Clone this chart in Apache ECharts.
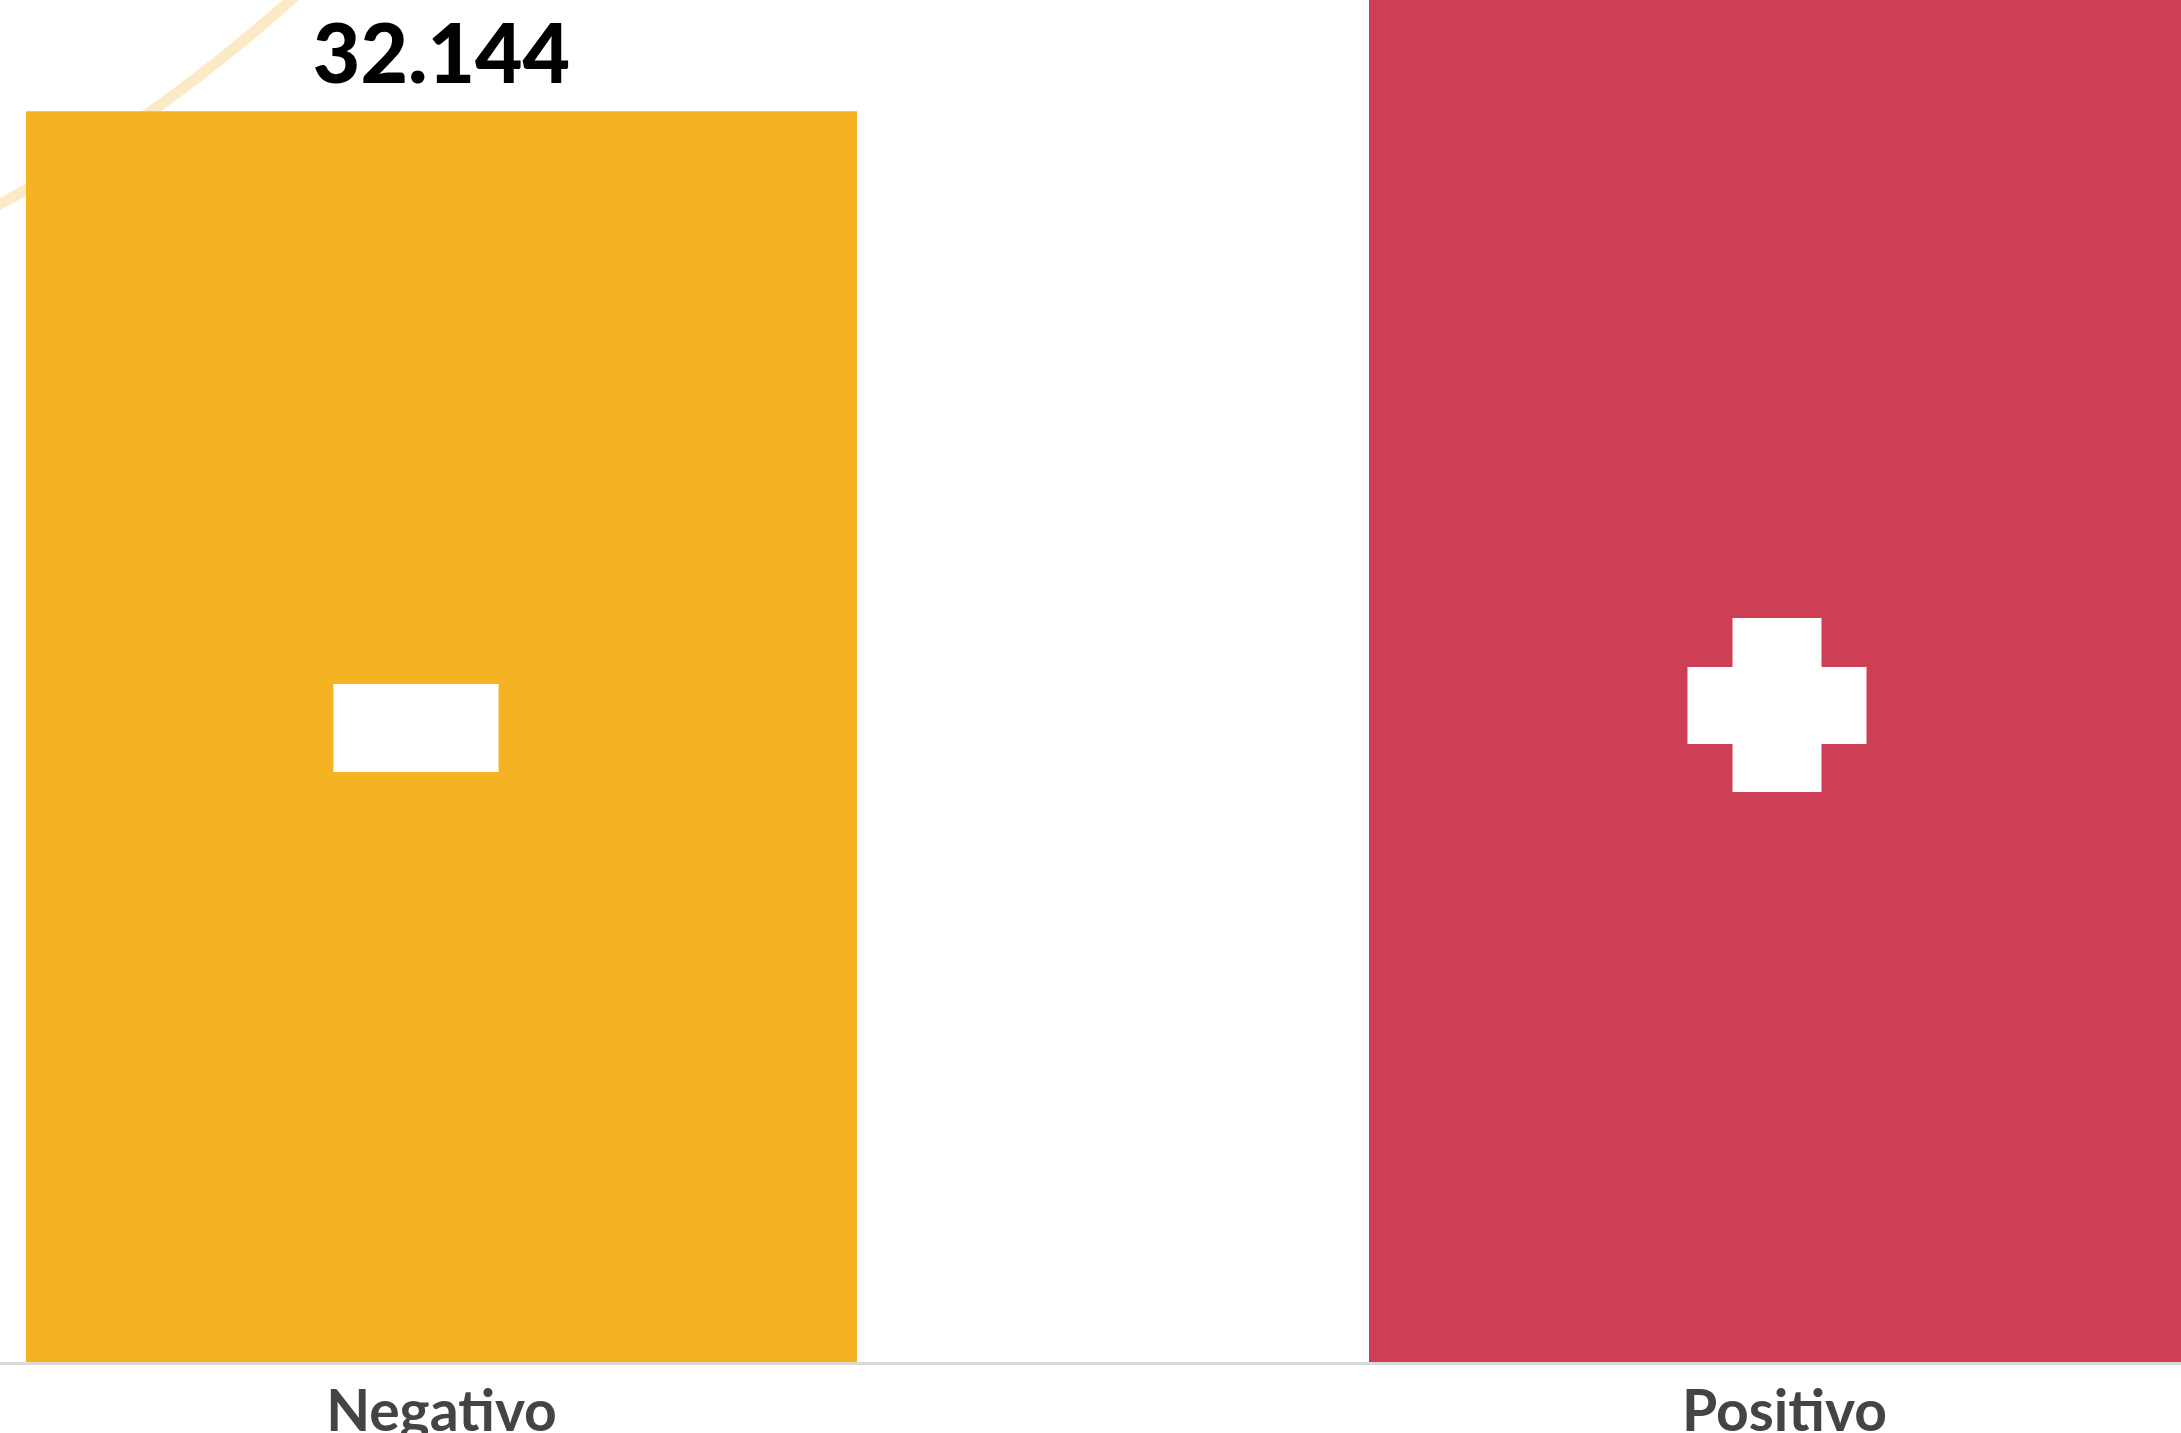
<!DOCTYPE html>
<html>
<head>
<meta charset="utf-8">
<script src="https://cdn.jsdelivr.net/npm/echarts@6/dist/echarts.min.js"></script>
<style>
html,body{margin:0;padding:0;background:#fff;}
#chart{width:2181px;height:1433px;}
</style>
</head>
<body>
<div id="chart"></div>
<script>
const categories = ['Negativo', 'Positivo'];
const values = [32144, 47000];
const colors = ['#F5B223', '#CE3E55'];
const labelTexts = ['32.144', ''];

const chart = echarts.init(document.getElementById('chart'), null, {renderer: 'canvas'});

const option = {
  backgroundColor: '#ffffff',
  animation: false,
  grid: {left: -230, right: -275, top: 0, bottom: 70, containLabel: false, outerBoundsMode: 'none'},
  xAxis: {
    type: 'category',
    data: categories,
    axisLine: {show: true, lineStyle: {color: '#d9d9d9', width: 3}},
    axisTick: {show: false},
    axisLabel: {
      color: '#444444', fontFamily: 'Lato', fontWeight: 'bold', fontSize: 57, margin: 21
    },
    z: 5
  },
  yAxis: {
    type: 'value', min: 0, max: 35000,
    show: false, splitLine: {show: false}
  },
  series: [{
    type: 'bar',
    barWidth: 831,
    clip: true,
    data: values.map((v, i) => ({value: v, itemStyle: {color: colors[i]}})),
    label: {
      show: true, position: 'top', distance: 14,
      formatter: p => labelTexts[p.dataIndex],
      color: '#000', fontFamily: 'Lato', fontWeight: 900, fontSize: 82
    }
  }]
};
chart.setOption(option);

// decorative icons positioned from bar centers
const pNeg = chart.convertToPixel({gridIndex: 0}, [categories[0], 0]);
const pPos = chart.convertToPixel({gridIndex: 0}, [categories[1], 0]);
chart.setOption({
  graphic: [
    {
      type: 'bezierCurve', z: -10, silent: true,
      shape: {x1: -10, y1: 209, x2: 300, y2: -8, cpx1: 145, cpy1: 131},
      style: {stroke: '#FCE9C6', lineWidth: 11, fill: null}
    },
    {
      type: 'rect', z: 100, silent: true,
      shape: {x: pNeg[0] - 108, y: 684, width: 165, height: 88},
      style: {fill: '#ffffff'}
    },
    {
      type: 'rect', z: 100, silent: true,
      shape: {x: pPos[0] - 52, y: 618, width: 89, height: 174},
      style: {fill: '#ffffff'}
    },
    {
      type: 'rect', z: 100, silent: true,
      shape: {x: pPos[0] - 97, y: 667, width: 179, height: 77},
      style: {fill: '#ffffff'}
    }
  ]
});
</script>
</body>
</html>
